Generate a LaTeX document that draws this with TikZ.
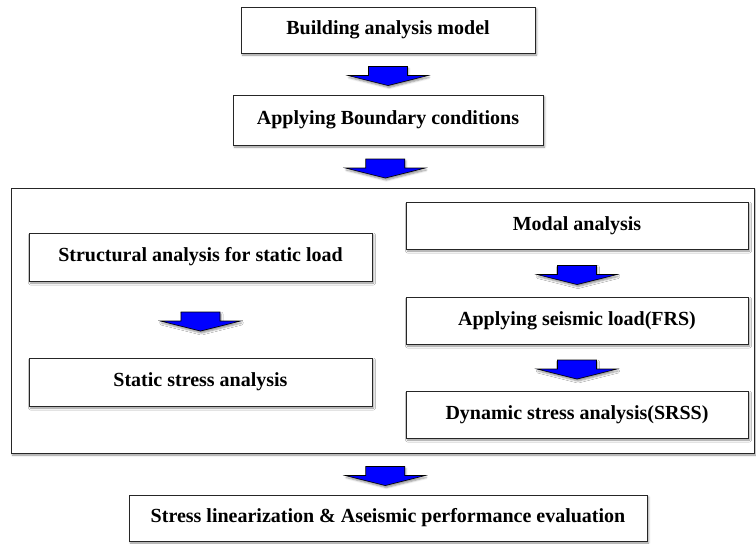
\documentclass[tikz,border=0pt]{standalone}
\usepackage{fontspec}
\setmainfont{Liberation Serif}
\usetikzlibrary{shadows.blur,calc}

\begin{document}
\begin{tikzpicture}[x=1pt,y=1pt,
        box/.style={draw=black!85, line width=1pt, fill=white, inner sep=0pt,
            font=\bfseries\fontsize{20}{24}\selectfont,
            blur shadow={shadow xshift=1.5pt, shadow yshift=-2pt, shadow blur radius=2pt, shadow opacity=45}},
        blockarrow/.style={draw=black, line width=0.6pt, fill=blue, line join=miter,
            blur shadow={shadow xshift=1pt, shadow yshift=-2pt, shadow blur radius=2pt, shadow opacity=45}},
        downarrow/.pic={
            \draw[blockarrow] (-19.5,9.5) -- (19.5,9.5) -- (19.5,0.5) -- (40,0.5)
                -- (0,-9.5) -- (-40,0.5) -- (-19.5,0.5) -- cycle;
        }]
        \useasboundingbox (0,0) rectangle (756,-544);

        \node[box, minimum width=743pt, minimum height=265pt] (group) at (382.5,-320.5) {};

        \node[box, minimum width=294pt, minimum height=46pt] (model) at (388,-30) { Building analysis model };
        \node[box, minimum width=310pt, minimum height=50pt] (bound) at (388,-120) { Applying Boundary conditions };

        \node[box, minimum width=343pt, minimum height=48pt] (struct) at (200.5,-257) { Structural analysis for static load };
        \node[box, minimum width=343pt, minimum height=48pt] (static) at (200.5,-382) { Static stress analysis };

        \node[box, minimum width=342pt, minimum height=47pt] (modal) at (577,-225.5) { Modal analysis };
        \node[box, minimum width=342pt, minimum height=47pt] (seismic) at (577,-320.5) { Applying seismic load(FRS) };
        \node[box, minimum width=342pt, minimum height=47pt] (dynamic) at (577,-414.5) { Dynamic stress analysis(SRSS) };

        \node[box, minimum width=518pt, minimum height=46pt] (eval) at (388,-518) { Stress linearization \& Aseismic performance evaluation };

        \pic[yshift=-2pt] (a1) at ($(model.south)!0.5!(bound.north)$) {downarrow};
        \pic[yshift=-2pt] (a2) at ($(bound.south)!0.5!(group.north)$) {downarrow};
        \pic[yshift=-2pt] (a3) at ($(struct.south)!0.5!(static.north)$) {downarrow};
        \pic[yshift=-2pt] (a4) at ($(modal.south)!0.5!(seismic.north)$) {downarrow};
        \pic[yshift=-2pt] (a5) at ($(seismic.south)!0.5!(dynamic.north)$) {downarrow};
        \pic[yshift=-2pt] (a6) at ($(group.south)!0.5!(eval.north)$) {downarrow};

    \end{tikzpicture}
\end{document}
